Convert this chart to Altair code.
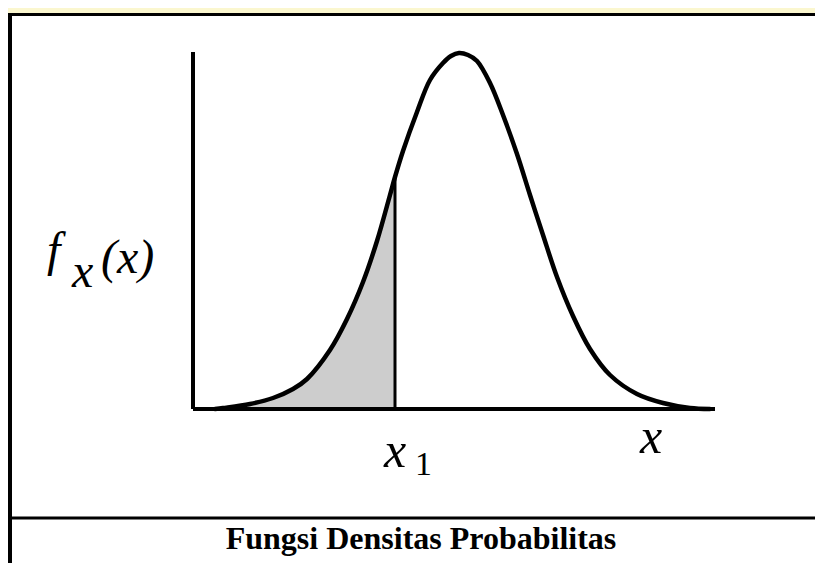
import altair as alt
import pandas as pd

# Density curve (x along the axis, height above baseline)
curve_x = [22, 30, 57, 80, 100, 114, 137, 154, 170, 184, 197, 202, 210, 224, 237, 250, 258,
           266, 275, 284, 297, 310, 324, 337, 350, 364, 380, 397, 417, 444, 470, 497, 517]
curve_y = [0, 1, 5, 11, 20, 30, 59, 90, 127, 168, 214, 232, 258, 297, 329, 346, 353,
           356, 354, 348, 326, 294, 255, 214, 174, 132, 93, 60, 34, 15, 6, 1, 0]
x1_value = 202
x_axis_max = 522
y_axis_max = 357

label_f = "f"
label_sub = "x"
label_paren = "(x)"
label_x1 = "x"
label_x1_sub = "1"
label_x = "x"
caption = "Fungsi Densitas Probabilitas"

curve = pd.DataFrame({"x": curve_x, "y": curve_y})
shade = curve[curve["x"] <= x1_value]
axes_df = pd.DataFrame({"x": [0, 0], "y": [0, 0], "x2": [0, x_axis_max], "y2": [y_axis_max, 0]})
x1_df = pd.DataFrame({"x": [x1_value], "y": [0],
                      "y2": [curve_y[curve_x.index(x1_value)]]})

xs = alt.Scale(domain=[0, x_axis_max], nice=False, zero=False)
ys = alt.Scale(domain=[0, y_axis_max], nice=False, zero=False)

area = alt.Chart(shade).mark_area(color="#cdcdcd", interpolate="catmull-rom").encode(
    x=alt.X("x:Q", scale=xs, axis=None), y=alt.Y("y:Q", scale=ys, axis=None))
line = alt.Chart(curve).mark_line(color="black", strokeWidth=4.5, interpolate="catmull-rom",
                                  strokeCap="round").encode(
    x=alt.X("x:Q", scale=xs, axis=None), y=alt.Y("y:Q", scale=ys, axis=None))
axes = alt.Chart(axes_df).mark_rule(color="black", strokeWidth=4).encode(
    x="x:Q", y="y:Q", x2="x2:Q", y2="y2:Q")
x1_rule = alt.Chart(x1_df).mark_rule(color="black", strokeWidth=3).encode(
    x="x:Q", y="y:Q", y2="y2:Q")

serif = "Liberation Serif"
txt_f = alt.Chart(x1_df).mark_text(text=label_f, font=serif, fontStyle="italic", fontSize=48,
                                  align="left", baseline="alphabetic").encode(
    x=alt.value(-146), y=alt.value(214))
txt_sub = alt.Chart(x1_df).mark_text(text=label_sub, font=serif, fontStyle="italic", fontSize=48,
                                    align="left", baseline="alphabetic").encode(
    x=alt.value(-121), y=alt.value(235))
txt_paren = alt.Chart(x1_df).mark_text(text=label_paren, font=serif, fontStyle="italic", fontSize=48,
                                      align="left", baseline="alphabetic").encode(
    x=alt.value(-92), y=alt.value(221))
txt_x1 = alt.Chart(x1_df).mark_text(text=label_x1, font=serif, fontStyle="italic", fontSize=50,
                                   align="center", baseline="alphabetic").encode(
    x="x:Q", y=alt.value(415))
txt_x1_sub = alt.Chart(x1_df).mark_text(text=label_x1_sub, font=serif, fontSize=34,
                                       align="left", baseline="alphabetic", dx=20).encode(
    x="x:Q", y=alt.value(423))
txt_x = alt.Chart(x1_df).mark_text(text=label_x, font=serif, fontStyle="italic", fontSize=50,
                                  align="center", baseline="alphabetic").encode(
    x=alt.value(458), y=alt.value(401))
txt_caption = alt.Chart(x1_df).mark_text(text=caption, font=serif, fontWeight="bold", fontSize=32,
                                        align="center", baseline="alphabetic").encode(
    x=alt.value(228), y=alt.value(497))

# frame
strip = alt.Chart(x1_df).mark_rect(color="#fbf7cf").encode(
    x=alt.value(-185), x2=alt.value(622), y=alt.value(-44), y2=alt.value(-39))
top_border = alt.Chart(x1_df).mark_rule(color="black", strokeWidth=3).encode(
    x=alt.value(-185), x2=alt.value(622), y=alt.value(-37.5))
left_border = alt.Chart(x1_df).mark_rule(color="black", strokeWidth=4).encode(
    x=alt.value(-183), y=alt.value(-39), y2=alt.value(511))
sep = alt.Chart(x1_df).mark_rule(color="black", strokeWidth=3).encode(
    x=alt.value(-185), x2=alt.value(622), y=alt.value(466))

chart = alt.layer(
    strip, top_border, left_border, sep,
    area, line, axes, x1_rule,
    txt_f, txt_sub, txt_paren, txt_x1, txt_x1_sub, txt_x, txt_caption
).properties(
    width=522, height=357,
    padding={"left": 185, "top": 44, "right": 100, "bottom": 154},
    autosize=alt.AutoSizeParams(type="none"),
    background="white",
).configure_view(stroke=None)

chart.save("out.html", embed_options={"renderer": "svg", "actions": False})
